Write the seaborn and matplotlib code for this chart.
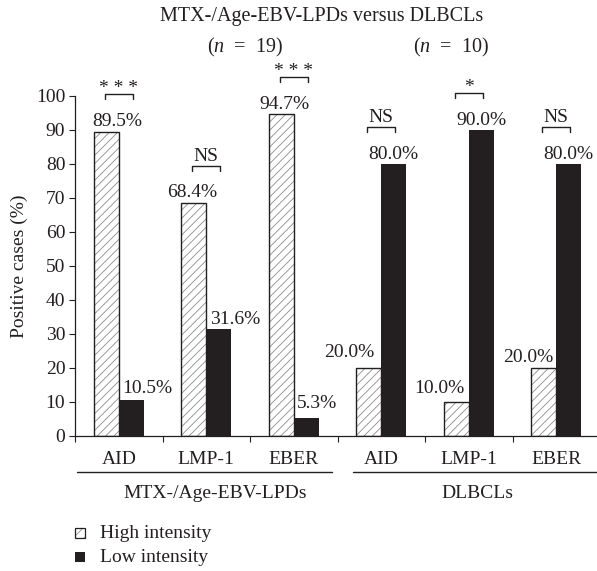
import numpy as np
import pandas as pd
import matplotlib
matplotlib.use("Agg")
import matplotlib.pyplot as plt
from matplotlib.patches import Rectangle
import seaborn as sns

# ---------------- data ----------------
groups = ["MTX-/Age-EBV-LPDs"] * 3 + ["DLBCLs"] * 3
markers = ["AID", "LMP-1", "EBER", "AID", "LMP-1", "EBER"]
high_intensity = [89.5, 68.4, 94.7, 20.0, 10.0, 20.0]
low_intensity = [10.5, 31.6, 5.3, 80.0, 90.0, 80.0]
significance = ["* * *", "NS", "* * *", "NS", "*", "NS"]
group_names = ["MTX-/Age-EBV-LPDs", "DLBCLs"]
group_n = [19, 10]
series = ["High intensity", "Low intensity"]
yticks = [0, 10, 20, 30, 40, 50, 60, 70, 80, 90, 100]

# ---------------- style ----------------
sns.set_style("ticks")
plt.rcParams["font.family"] = ["Liberation Serif", "DejaVu Serif"]
plt.rcParams["mathtext.fontset"] = "custom"
plt.rcParams["mathtext.rm"] = "Liberation Serif"
plt.rcParams["mathtext.it"] = "Liberation Serif:italic"
plt.rcParams["hatch.linewidth"] = 0.6
FS = 14
INK = "#231f20"

W, H = 597, 571
fig = plt.figure(figsize=(W / 100, H / 100), dpi=100)
ax_l, ax_r, ax_t, ax_b = 75, 600, 96, 436
ax = fig.add_axes([ax_l / W, 1 - ax_b / H, (ax_r - ax_l) / W, (ax_b - ax_t) / H])

keys = [f"{g}|{m}" for g, m in zip(groups, markers)]
df = pd.DataFrame({
    "key": keys * 2,
    "intensity": [series[0]] * len(keys) + [series[1]] * len(keys),
    "value": high_intensity + low_intensity,
})
sns.barplot(data=df, x="key", y="value", hue="intensity", order=keys,
            hue_order=series, palette={series[0]: "white", series[1]: INK},
            width=0.572, gap=0, saturation=1, errorbar=None, legend=False, ax=ax)

hi_bars = list(ax.containers[0])
lo_bars = list(ax.containers[1])
for b in hi_bars:
    b.set_hatch("////")
    b.set_edgecolor("#8c8c8c")
    b.set_linewidth(0)
    ax.add_patch(Rectangle(b.get_xy(), b.get_width(), b.get_height(), fill=False,
                           edgecolor=INK, linewidth=1.0, zorder=b.get_zorder() + 0.1))
for b in lo_bars:
    b.set_edgecolor(INK)
    b.set_linewidth(0)

ax.set_xlim(-0.5, len(keys) - 0.5)
ax.set_ylim(0, 100)
ax.set_yticks(yticks)
ax.set_yticklabels([str(t) for t in yticks], fontsize=FS, color=INK)
ax.set_xticks(range(len(keys)))
ax.set_xticklabels(markers, fontsize=FS, color=INK)
ax.set_xticks(np.arange(-0.5, len(keys), 1.0), minor=True)
ax.tick_params(axis="x", which="major", length=0, pad=10.5)
ax.tick_params(axis="x", which="minor", length=4, width=0.8, color=INK, direction="out")
ax.tick_params(axis="y", length=4, width=0.8, color=INK, direction="out", pad=3)
ax.set_xlabel("")
ax.set_ylabel("Positive cases (%)", fontsize=FS, color=INK)
ax.yaxis.set_label_coords((28 - ax_l) / (ax_r - ax_l), 0.5)
for s in ["top", "right"]:
    ax.spines[s].set_visible(False)
for s in ["left", "bottom"]:
    ax.spines[s].set_color(INK)
    ax.spines[s].set_linewidth(0.9)

# value labels (layout offsets in pixels)
hi_dx = [11.5, -1.5, 3, -19.5, -17, -15]
hi_dy = [6, 6, 5, 11, 9, 6]
lo_dx = [16.5, 16, 10.5, 0, 0, 0]
lo_dy = [7, 5, 10, 5, 5, 5]
px = 0.72
for b, v, dx, dy in zip(hi_bars, high_intensity, hi_dx, hi_dy):
    ax.annotate(f"{v:.1f}%", (b.get_x() + b.get_width() / 2, b.get_height()),
                xytext=(dx * px, dy * px), textcoords="offset points",
                ha="center", va="baseline", fontsize=FS, color=INK, annotation_clip=False)
for b, v, dx, dy in zip(lo_bars, low_intensity, lo_dx, lo_dy):
    ax.annotate(f"{v:.1f}%", (b.get_x() + b.get_width() / 2, b.get_height()),
                xytext=(dx * px, dy * px), textcoords="offset points",
                ha="center", va="baseline", fontsize=FS, color=INK, annotation_clip=False)

# significance brackets
for i, (h, l, s) in enumerate(zip(high_intensity, low_intensity, significance)):
    top = max(h, l) + 11
    half = 0.16
    ax.plot([i - half, i - half, i + half, i + half], [top - 1.5, top, top, top - 1.5],
            color=INK, linewidth=1.0, clip_on=False)
    off = 1 if "*" in s else 5
    ax.annotate(s, (i, top), xytext=(0, off * px), textcoords="offset points",
                ha="center", va="baseline", fontsize=FS, color=INK, annotation_clip=False)

# group underlines and labels
tr = ax.get_xaxis_transform()
yl = -(472 - ax_b) / (ax_b - ax_t)
yg = -(493 - ax_b) / (ax_b - ax_t)
ax.plot([-0.477, 2.437], [yl, yl], color=INK, linewidth=1.0, transform=tr, clip_on=False)
ax.plot([2.677, 5.6], [yl, yl], color=INK, linewidth=1.0, transform=tr, clip_on=False)
ax.text(1.1, yg, group_names[0], transform=tr, ha="center", va="center", fontsize=FS, color=INK)
ax.text(4.1, yg, group_names[1], transform=tr, ha="center", va="center", fontsize=FS, color=INK)

# title
fig.text(322 / W, 1 - 17 / H, f"{group_names[0]} versus {group_names[1]}",
         ha="center", va="center", fontsize=FS + 0.5, color=INK)
fig.text(245 / W, 1 - 47 / H, rf"($\mathit{{n}}$  =  {group_n[0]})",
         ha="center", va="center", fontsize=FS + 0.5, color=INK)
fig.text(451 / W, 1 - 47 / H, rf"($\mathit{{n}}$  =  {group_n[1]})",
         ha="center", va="center", fontsize=FS + 0.5, color=INK)

# legend
for k, (lab, yy) in enumerate(zip(series, [533, 557])):
    if k == 0:
        fig.patches.append(Rectangle((75 / W, 1 - (yy + 5) / H), 10 / W, 10 / H,
                                     transform=fig.transFigure, facecolor="white",
                                     edgecolor="#8c8c8c", hatch="///", linewidth=0, figure=fig))
        fig.patches.append(Rectangle((75 / W, 1 - (yy + 5) / H), 10 / W, 10 / H,
                                     transform=fig.transFigure, fill=False,
                                     edgecolor=INK, linewidth=0.9, figure=fig))
    else:
        fig.patches.append(Rectangle((75 / W, 1 - (yy + 5) / H), 10 / W, 10 / H,
                                     transform=fig.transFigure, facecolor=INK,
                                     linewidth=0, figure=fig))
    fig.text(100 / W, 1 - yy / H, lab, ha="left", va="center", fontsize=FS, color=INK)

fig.savefig("out.png", dpi=100)
